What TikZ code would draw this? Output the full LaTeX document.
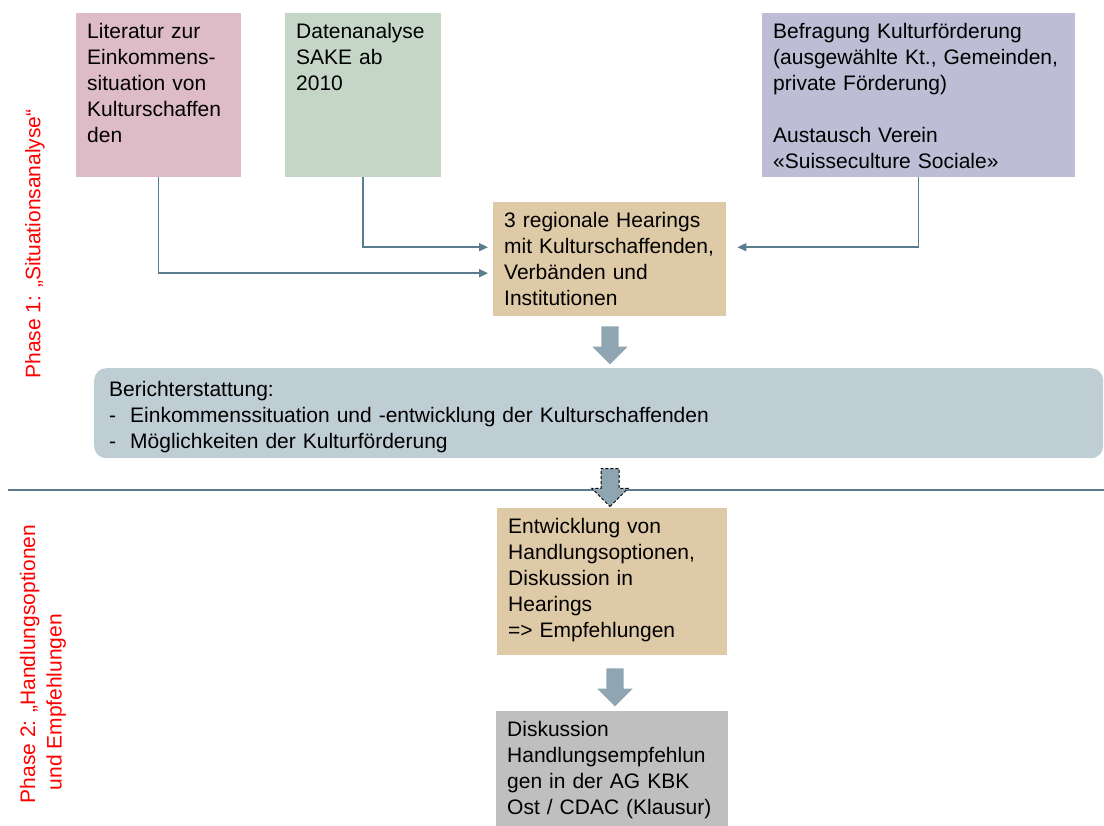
\documentclass[tikz,border=0pt]{standalone}
\usepackage{fontspec}
\setmainfont{Liberation Sans}
\usetikzlibrary{arrows.meta,shapes.arrows}

\definecolor{litpink}{HTML}{DDBCC7}
\definecolor{datgreen}{HTML}{C5D6C7}
\definecolor{beflila}{HTML}{BDBDD5}
\definecolor{hearbeige}{HTML}{DECAA7}
\definecolor{berblue}{HTML}{BFCDD4}
\definecolor{disgrey}{HTML}{BFBFBF}
\definecolor{arrowfill}{HTML}{8FA5B1}
\definecolor{linecol}{HTML}{5B7B8F}

\newcommand{\boxfont}{\fontsize{21}{26}\selectfont}
\newcommand{\phasefont}{\fontsize{21}{26.5}\selectfont}

\tikzset{
  cell/.style={anchor=north west, inner xsep=11pt, inner ysep=10pt,
    text height=15pt, align=left, font=\boxfont},
  link/.style={draw=linecol, line width=1.5pt, shorten >=5pt,
    -{Triangle[length=9pt,width=8pt]}},
  blockarrow/.style={single arrow, shape border rotate=270, fill=arrowfill,
    inner sep=8.5pt, minimum width=35pt, minimum height=38pt,
    single arrow head extend=9pt},
  phase/.style={text=red, rotate=90, align=left, font=\phasefont},
}

\begin{document}
\begin{tikzpicture}[x=1pt,y=-1pt]
  \useasboundingbox (0,0) rectangle (1104,826);

  % Phase 1
  \node[cell, fill=litpink, text width=143pt, text depth=129pt] (lit) at (76,13)
    {Literatur zur\\Einkommens-\\situation von\\Kulturschaffen\\den};
  \node[cell, fill=datgreen, text width=134pt, text depth=129pt] (dat) at (285,13)
    {Datenanalyse\\SAKE ab\\2010};
  \node[cell, fill=beflila, text width=291pt, text depth=129pt] (bef) at (762,13)
    {Befragung Kulturförderung\\(ausgewählte Kt., Gemeinden,\\private Förderung)\\[26pt]Austausch Verein\\«Suisseculture Sociale»};
  \node[cell, fill=hearbeige, text width=211pt, text depth=79pt] (hear) at (493,202)
    {3 regionale Hearings\\mit Kulturschaffenden,\\Verbänden und\\Institutionen};

  \draw[link] (lit.south) |- ([yshift=-14pt]hear.west);
  \draw[link] (dat.south) |- ([yshift=12pt]hear.west);
  \draw[link] (bef.south) |- ([yshift=12pt,xshift=6pt]hear.east);

  \node[blockarrow] (down1) at (610,341) {};

  \node[cell, fill=berblue, rounded corners=12pt, inner xsep=15pt, inner ysep=13pt,
    text width=979pt, text depth=49pt] (ber) at (94,368)
    {Berichterstattung:\\\makebox[21pt][l]{-}Einkommenssituation und -entwicklung der Kulturschaffenden\\\makebox[21pt][l]{-}Möglichkeiten der Kulturförderung};

  % phase border
  \coordinate (sepl) at (8,490);
  \coordinate (sepr) at (1104,490);
  \draw[linecol, line width=1.5pt] (sepl) -- (sepr);

  \node[blockarrow, draw=black, line width=1pt, dash pattern=on 3pt off 2pt] (down2) at (610,483) {};

  % Phase 2
  \node[cell, fill=hearbeige, text width=208pt, text depth=112pt] (ent) at (497,508)
    {Entwicklung von\\Handlungsoptionen,\\Diskussion in\\Hearings\\=> Empfehlungen};
  \node[blockarrow] (down3) at (615,683) {};
  \node[cell, fill=disgrey, text width=210pt, text depth=95pt] (dis) at (496,711)
    {Diskussion\\Handlungsempfehlun\\gen in der AG KBK\\Ost / CDAC (Klausur)};

  \node[phase] (ph1) at (35,244) {Phase 1: „Situationsanalyse“};
  \node[phase] (ph2) at (43,664) {Phase 2: „Handlungsoptionen\\\hspace{13pt}und Empfehlungen};
\end{tikzpicture}
\end{document}
